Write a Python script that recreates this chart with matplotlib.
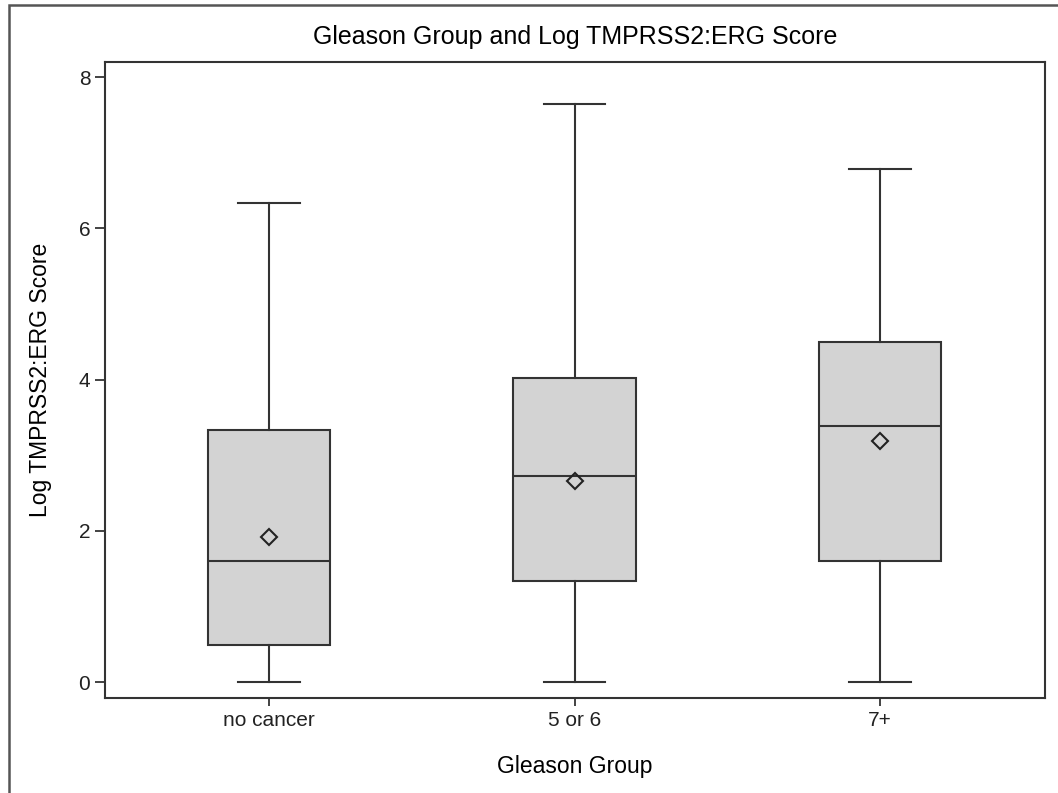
import numpy as np
import matplotlib.pyplot as plt
from matplotlib.patches import Rectangle

groups = ['no cancer', '5 or 6', '7+']
whisker_lo = [0.0, 0.0, 0.0]
q1 = [0.49, 1.34, 1.60]
medians = [1.60, 2.72, 3.39]
q3 = [3.34, 4.02, 4.50]
whisker_hi = [6.34, 7.65, 6.79]
means = [1.92, 2.66, 3.19]

stats = []
for i, g in enumerate(groups):
    stats.append({'label': g, 'whislo': whisker_lo[i], 'q1': q1[i], 'med': medians[i],
                  'q3': q3[i], 'whishi': whisker_hi[i], 'mean': means[i], 'fliers': []})

plt.rcParams['font.family'] = ['Liberation Sans', 'DejaVu Sans']

fig = plt.figure(figsize=(10.58, 7.93), dpi=100)
ax = fig.add_axes([0.0992, 0.1198, 0.8885, 0.802])

edge = '#333333'
ax.bxp(stats, positions=[1, 2, 3], widths=0.40, showmeans=True, patch_artist=True,
       boxprops=dict(facecolor='#d3d3d3', edgecolor=edge, linewidth=1.5),
       medianprops=dict(color=edge, linewidth=1.5),
       whiskerprops=dict(color=edge, linewidth=1.5),
       capprops=dict(color=edge, linewidth=1.5),
       capwidths=0.2,
       meanprops=dict(marker='D', markerfacecolor='none', markeredgecolor='#222222',
                      markersize=8.5, markeredgewidth=1.5))

ax.set_xlim(0.463, 3.54)
ax.set_ylim(-0.21, 8.2)
ax.set_yticks([0, 2, 4, 6, 8])
ax.tick_params(axis='y', length=7, width=1.2, labelsize=15, colors='#222222')
ax.tick_params(axis='x', length=6, width=1.2, labelsize=15, colors='#222222')
for s in ax.spines.values():
    s.set_linewidth(1.5)
    s.set_color('#333333')

ax.set_title('Gleason Group and Log TMPRSS2:ERG Score', fontsize=18, pad=13)
ax.set_xlabel('Gleason Group', fontsize=16.5, labelpad=18)
ax.set_ylabel('Log TMPRSS2:ERG Score', fontsize=16.5, labelpad=19)

# outer frame, cropped on right and bottom
fig.patches.append(Rectangle((9 / 1058, -0.05), 1.1, 1 - 5 / 793 + 0.05,
                             transform=fig.transFigure, fill=False,
                             edgecolor='#555555', linewidth=1.8))

fig.savefig('out.png', dpi=100)
